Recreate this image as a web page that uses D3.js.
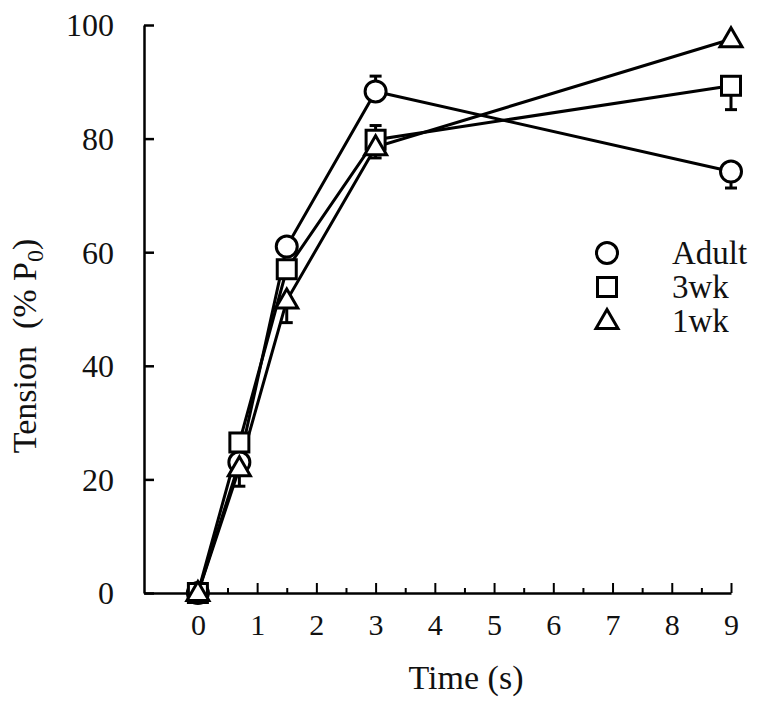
<!DOCTYPE html>
<html>
<head>
<meta charset="utf-8">
<script src="https://cdn.jsdelivr.net/npm/d3@7"></script>
<style>
  body { margin: 0; background: #fff; }
  svg { display: block; }
  svg text { font-family: "Liberation Serif", "Times New Roman", serif; }
</style>
</head>
<body>
<svg id="chart" width="759" height="702"></svg>
<script>
// ---- data ----
const times = [0, 0.7, 1.5, 3, 9];
const adult = [0, 23, 61, 88.3, 74.2];
const wk3 = [0, 26.5, 57, 79.8, 89.3];
const wk1 = [0, 22, 51.5, 78.5, 97.5];
// one-sided error bars (positive = upward, negative = downward)
const adultErr = [0, 0, 0, 2.7, -2.9];
const wk3Err = [0, 1, 0, 2.5, -4.2];
const wk1Err = [0, -3.2, -3.9, -1.9, 0];
const seriesNames = ["Adult", "3wk", "1wk"];
const seriesShapes = ["circle", "square", "triangle"];
const xTicks = [0, 1, 2, 3, 4, 5, 6, 7, 8, 9];
const xMinorTicks = [0.5, 1.5, 2.5, 3.5, 4.5, 5.5, 6.5, 7.5, 8.5];
const yTicks = [0, 20, 40, 60, 80, 100];
const xTitle = "Time (s)";

const series = [
  { name: seriesNames[0], shape: seriesShapes[0], values: adult, err: adultErr },
  { name: seriesNames[1], shape: seriesShapes[1], values: wk3, err: wk3Err },
  { name: seriesNames[2], shape: seriesShapes[2], values: wk1, err: wk1Err }
];

const svg = d3.select("#chart");
const x = d3.scaleLinear().domain([-0.91, 9]).range([144, 731]);
const y = d3.scaleLinear().domain([0, 100]).range([593, 25]);

const SW = 3;
const INK = "#111";

// ---- axes ----
const yAxis = d3.axisLeft(y).tickValues(yTicks).tickSizeInner(-10).tickSizeOuter(0).tickPadding(30);
const gy = svg.append("g").attr("transform", `translate(${x.range()[0]},0)`).call(yAxis);
gy.attr("font-family", null);
gy.select(".domain").attr("stroke", "#000").attr("stroke-width", 2.5);
gy.selectAll(".tick line").attr("stroke", "#000").attr("stroke-width", 2.5);
gy.selectAll(".tick text").attr("font-size", 32).attr("fill", INK).attr("dy", "0.34em");

const xAxisMinor = d3.axisBottom(x).tickValues(xMinorTicks).tickSizeInner(-5).tickSizeOuter(0).tickFormat("");
const gxm = svg.append("g").attr("transform", `translate(0,${y.range()[0]})`).call(xAxisMinor);
gxm.select(".domain").remove();
gxm.selectAll(".tick line").attr("stroke", "#000").attr("stroke-width", 2);

const xAxis = d3.axisBottom(x).tickValues(xTicks).tickSizeInner(-10).tickSizeOuter(0).tickPadding(21).tickFormat(d3.format("d"));
const gx = svg.append("g").attr("transform", `translate(0,${y.range()[0]})`).call(xAxis);
gx.attr("font-family", null);
gx.select(".domain").attr("stroke", "#000").attr("stroke-width", 2.5);
gx.selectAll(".tick line").attr("stroke", "#000").attr("stroke-width", 2);
gx.selectAll(".tick text").attr("font-size", 30).attr("fill", INK).attr("dy", "0.71em");

// axis titles
svg.append("text").attr("x", 466).attr("y", 689).attr("text-anchor", "middle")
  .attr("font-size", 34).attr("fill", INK).text(xTitle);

const yt = svg.append("text").attr("transform", "translate(36,346) rotate(-90)")
  .attr("text-anchor", "middle").attr("font-size", 34).attr("fill", INK)
  .style("white-space", "pre");
yt.append("tspan").text("Tension  (% P");
yt.append("tspan").attr("font-size", 24).attr("dy", 7).text("0");
yt.append("tspan").attr("dy", -7).text(")");

// ---- shapes ----
function drawMarker(g, shape, cx, cy) {
  if (shape === "circle") {
    g.append("circle").attr("cx", cx).attr("cy", cy).attr("r", 10.5)
      .attr("fill", "#fff").attr("stroke", "#000").attr("stroke-width", SW);
  } else if (shape === "square") {
    g.append("rect").attr("x", cx - 9.5).attr("y", cy - 9.5).attr("width", 19).attr("height", 19)
      .attr("fill", "#fff").attr("stroke", "#000").attr("stroke-width", SW);
  } else {
    const h = 19, w = 22;
    g.append("path")
      .attr("d", `M${cx},${cy - h * 0.6}L${cx + w / 2},${cy + h * 0.4}L${cx - w / 2},${cy + h * 0.4}Z`)
      .attr("fill", "#fff").attr("stroke", "#000").attr("stroke-width", SW).attr("stroke-linejoin", "miter");
  }
}

const line = d3.line().x((d, i) => x(times[i])).y(d => y(d));

// error bars
series.forEach(s => {
  s.err.forEach((e, i) => {
    if (!e) return;
    const cx = x(times[i]);
    svg.append("line").attr("x1", cx).attr("x2", cx).attr("y1", y(s.values[i])).attr("y2", y(s.values[i] + e))
      .attr("stroke", "#000").attr("stroke-width", SW);
    svg.append("line").attr("x1", cx - 6).attr("x2", cx + 6).attr("y1", y(s.values[i] + e)).attr("y2", y(s.values[i] + e))
      .attr("stroke", "#000").attr("stroke-width", SW);
  });
});

// lines
series.forEach(s => {
  svg.append("path").datum(s.values).attr("d", line)
    .attr("fill", "none").attr("stroke", "#000").attr("stroke-width", SW);
});

// markers
series.forEach(s => {
  const g = svg.append("g");
  s.values.forEach((v, i) => drawMarker(g, s.shape, x(times[i]), y(v)));
});

// ---- legend ----
const legY = [253, 287, 321];
series.forEach((s, i) => {
  const g = svg.append("g");
  drawMarker(g, s.shape, 607, legY[i]);
  svg.append("text").attr("x", 672).attr("y", legY[i] + 11).attr("font-size", 33).attr("fill", INK).text(s.name);
});
</script>
</body>
</html>
